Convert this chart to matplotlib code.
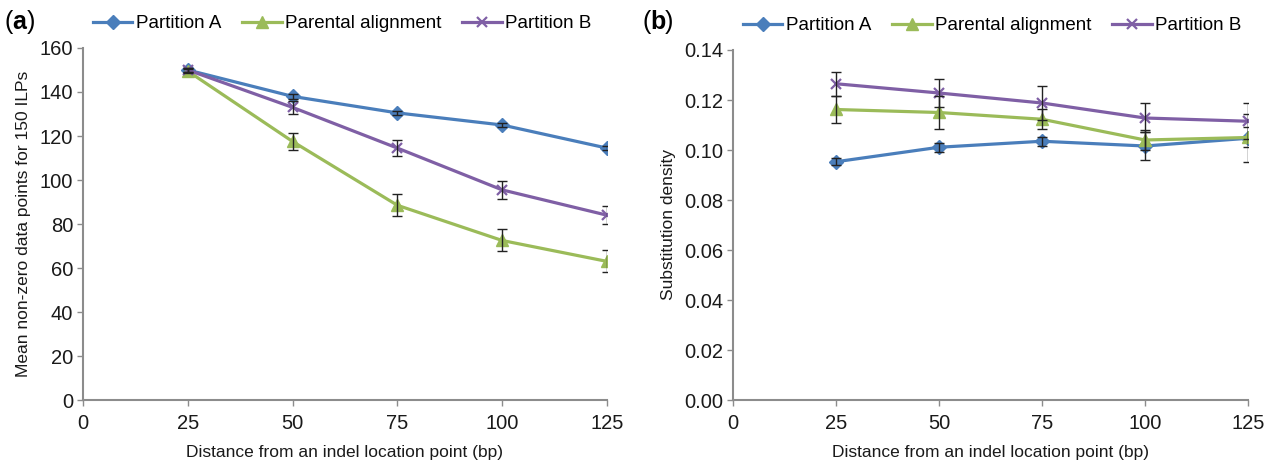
import matplotlib
matplotlib.use("Agg")
import matplotlib.pyplot as plt
from matplotlib.ticker import FormatStrFormatter

plt.rcParams['font.family'] = ['Liberation Sans', 'DejaVu Sans']

x = [25, 50, 75, 100, 125]
series_names = ["Partition A", "Parental alignment", "Partition B"]

# Panel (a): mean non-zero data points for 150 ILPs
a_partA = [150, 138, 130.5, 125, 114.5]
a_partA_err = [1, 1, 1, 1, 1]
a_parental = [149.5, 117.5, 88.5, 72.5, 63]
a_parental_err = [1, 4, 5, 5, 5]
a_partB = [150, 133, 114.5, 95.5, 84]
a_partB_err = [1, 3, 3.5, 4, 4]

# Panel (b): substitution density
b_partA = [0.0953, 0.1011, 0.1035, 0.1016, 0.1047]
b_partA_err = [0.0015, 0.0018, 0.0018, 0.0055, 0.0095]
b_parental = [0.1162, 0.1150, 0.1123, 0.1040, 0.1050]
b_parental_err = [0.0055, 0.0066, 0.004, 0.004, 0.004]
b_partB = [0.1265, 0.1228, 0.1188, 0.1128, 0.1115]
b_partB_err = [0.0048, 0.0055, 0.0068, 0.0058, 0.0072]

colors = ["#4A7EBB", "#9BBB59", "#7F5FA5"]
markers = ["D", "^", "x"]
msizes = [7, 8, 7]

fig = plt.figure(figsize=(12.74, 4.65), dpi=100)
ax_a = fig.add_axes([83/1274, 65/465, 524/1274, 352/465])
ax_b = fig.add_axes([733/1274, 65/465, 515/1274, 350/465])

def draw(ax, ys, errs):
    handles = []
    for y, e, c, m, ms, name in zip(ys, errs, colors, markers, msizes, series_names):
        ax.errorbar(x, y, yerr=e, fmt='none', ecolor='#222222', elinewidth=1.0,
                    capsize=3.5, capthick=1.0, zorder=3)
        h, = ax.plot(x, y, color=c, lw=2.3, marker=m, ms=ms, mfc=c, mec=c,
                     mew=1.6 if m == 'x' else 1, label=name, zorder=2)
        handles.append(h)
    ax.set_xlim(0, 125)
    ax.set_xticks([0, 25, 50, 75, 100, 125])
    for s in ['top', 'right']:
        ax.spines[s].set_visible(False)
    for s in ['left', 'bottom']:
        ax.spines[s].set_color('#8c8c8c')
        ax.spines[s].set_linewidth(1.5)
    ax.tick_params(axis='both', direction='out', length=4, width=1, color='#8c8c8c',
                   labelsize=14.5, labelcolor='#1a1a1a', pad=3)
    ax.tick_params(axis='x', pad=6)
    ax.set_xlabel("Distance from an indel location point (bp)", fontsize=12.5, color='#1a1a1a', labelpad=9)
    ax.legend(handles=handles, loc='lower left', bbox_to_anchor=(10/ax.bbox.width, 1.045), ncol=3,
              frameon=False, fontsize=13.5, handlelength=2.1, handletextpad=0.2,
              columnspacing=1.1, borderaxespad=0, borderpad=0)
    return handles

draw(ax_a, [a_partA, a_parental, a_partB], [a_partA_err, a_parental_err, a_partB_err])
ax_a.set_ylim(0, 160)
ax_a.set_yticks(range(0, 161, 20))
ax_a.set_ylabel("Mean non-zero data points for 150 ILPs", fontsize=12.5, color='#1a1a1a', labelpad=6)

draw(ax_b, [b_partA, b_parental, b_partB], [b_partA_err, b_parental_err, b_partB_err])
ax_b.set_ylim(0, 0.14)
ax_b.set_yticks([0, 0.02, 0.04, 0.06, 0.08, 0.10, 0.12, 0.14])
ax_b.yaxis.set_major_formatter(FormatStrFormatter('%.2f'))
ax_b.set_ylabel("Substitution density", fontsize=12.5, color='#1a1a1a', labelpad=6)

for xp, lab in [(5, 'a'), (643, 'b')]:
    fig.text(xp/1274, 1 - 22/465, '(', fontsize=18, va='center', ha='left')
    fig.text((xp + 7)/1274, 1 - 22/465, lab, fontsize=18, fontweight='bold', va='center', ha='left')
    fig.text((xp + 22)/1274, 1 - 22/465, ')', fontsize=18, va='center', ha='left')

fig.savefig("out.png", dpi=100)
